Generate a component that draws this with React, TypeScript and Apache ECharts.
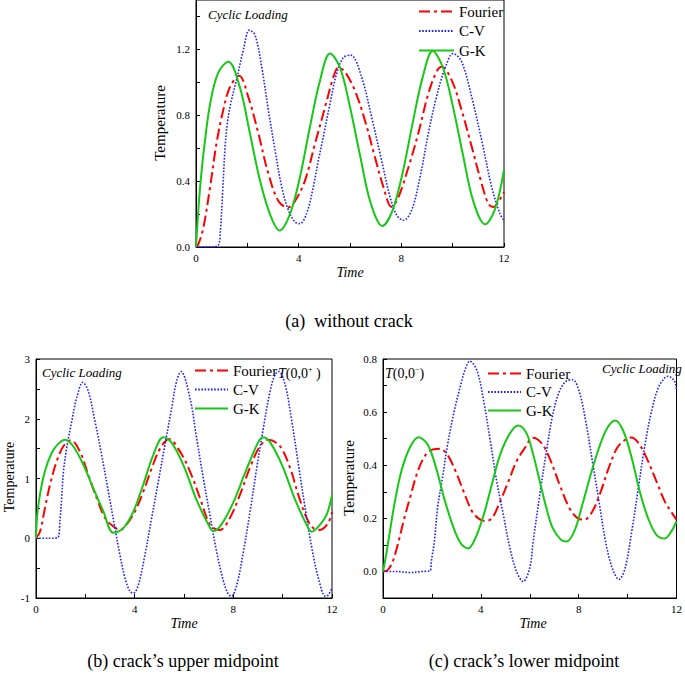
import React, { useEffect, useRef } from "react";
import * as echarts from "echarts";

// ---------- data ----------
const seriesNames = ["Fourier", "C-V", "G-K"];
const xTickValues = [0, 2, 4, 6, 8, 10, 12];
const xLabelValues = [0, 4, 8, 12];

const aYTicks = [0, 0.2, 0.4, 0.6, 0.8, 1.0, 1.2, 1.4];
const aYLabels = [0, 0.4, 0.8, 1.2];
const bYTicks = [-1, -0.5, 0, 0.5, 1, 1.5, 2, 2.5, 3];
const bYLabels = [-1, 0, 1, 2, 3];
const cYTicks = [0, 0.1, 0.2, 0.3, 0.4, 0.5, 0.6, 0.7, 0.8];
const cYLabels = [0, 0.2, 0.4, 0.6, 0.8];

const aFourier = [[0,0],[0.1,0.02],[0.29,0.12],[0.55,0.365],[0.8,0.63],[1.06,0.83],[1.32,0.97],[1.68,1.04],[2.04,0.91],[2.43,0.69],[2.82,0.445],[3.21,0.28],[3.58,0.24],[3.86,0.28],[4.25,0.405],[4.64,0.63],[5.03,0.85],[5.35,1.03],[5.55,1.09],[5.8,1.064],[6.19,0.95],[6.58,0.77],[6.97,0.547],[7.3,0.365],[7.62,0.243],[7.88,0.3],[8.28,0.486],[8.66,0.69],[9.05,0.93],[9.37,1.064],[9.57,1.094],[9.96,1.013],[10.35,0.83],[10.74,0.61],[11.13,0.385],[11.39,0.263],[11.58,0.243],[11.84,0.29],[12,0.334]];
const aCV = [[0,0],[0.5,0],[0.86,0.01],[0.95,0.1],[1.04,0.34],[1.13,0.6],[1.22,0.75],[1.35,0.87],[1.6,1.03],[1.85,1.2],[2.08,1.317],[2.3,1.287],[2.56,1.094],[2.82,0.83],[3.08,0.588],[3.34,0.365],[3.6,0.223],[3.86,0.152],[4.05,0.142],[4.31,0.203],[4.57,0.365],[4.77,0.527],[4.96,0.669],[5.22,0.871],[5.48,1.054],[5.74,1.15],[6.03,1.165],[6.45,1.033],[6.84,0.79],[7.23,0.527],[7.56,0.304],[7.82,0.193],[8.08,0.162],[8.4,0.223],[8.73,0.426],[9.05,0.689],[9.37,0.912],[9.7,1.084],[10.02,1.175],[10.35,1.125],[10.74,0.912],[11.13,0.648],[11.52,0.365],[11.84,0.203],[12,0.162]];
const aGK = [[0,0],[0.08,0.2],[0.17,0.38],[0.3,0.58],[0.55,0.87],[0.87,1.06],[1.26,1.125],[1.71,0.97],[2.1,0.69],[2.49,0.405],[2.88,0.2],[3.25,0.1],[3.66,0.2],[4.05,0.425],[4.44,0.73],[4.83,1.01],[5.22,1.175],[5.61,1.09],[6.0,0.85],[6.4,0.55],[6.8,0.27],[7.26,0.128],[7.65,0.22],[8.05,0.45],[8.45,0.76],[8.83,1.03],[9.22,1.19],[9.62,1.09],[10.0,0.86],[10.4,0.56],[10.8,0.28],[11.26,0.138],[11.65,0.23],[12,0.47]];

const bFourier = [[0,0],[0.16,0.11],[0.36,0.5],[0.57,0.9],[0.84,1.29],[1.11,1.54],[1.42,1.64],[1.78,1.45],[2.12,1.06],[2.46,0.67],[2.8,0.34],[3.13,0.2],[3.42,0.14],[3.67,0.23],[4.01,0.45],[4.35,0.78],[4.69,1.17],[5.03,1.5],[5.4,1.66],[5.84,1.45],[6.24,1.12],[6.65,0.67],[6.98,0.28],[7.19,0.17],[7.46,0.14],[7.86,0.34],[8.27,0.73],[8.67,1.18],[9.08,1.54],[9.42,1.65],[9.89,1.54],[10.3,1.18],[10.63,0.73],[10.97,0.34],[11.24,0.17],[11.51,0.14],[11.85,0.26],[12,0.44]];
const bCV = [[0,0],[0.5,0],[0.88,0.01],[0.97,0.3],[1.04,0.67],[1.11,1.1],[1.24,1.5],[1.45,1.96],[1.65,2.35],[1.9,2.61],[2.12,2.46],[2.39,1.96],[2.66,1.4],[2.93,0.79],[3.2,0.17],[3.4,-0.27],[3.61,-0.67],[3.81,-0.89],[3.95,-0.92],[4.15,-0.78],[4.42,-0.27],[4.69,0.34],[4.96,0.95],[5.23,1.57],[5.5,2.18],[5.7,2.63],[5.88,2.79],[6.24,2.35],[6.51,1.68],[6.78,1.01],[7.05,0.39],[7.32,-0.22],[7.6,-0.72],[7.8,-0.94],[7.92,-0.97],[8.14,-0.78],[8.41,-0.22],[8.68,0.45],[8.95,1.18],[9.22,1.85],[9.49,2.46],[9.69,2.74],[9.84,2.79],[10.1,2.57],[10.37,1.96],[10.64,1.23],[10.91,0.51],[11.18,-0.16],[11.45,-0.67],[11.73,-0.97],[11.85,-0.95],[12,-0.83]];
const bGK = [[0,0],[0.05,0.39],[0.16,0.73],[0.36,1.12],[0.64,1.43],[0.9,1.58],[1.19,1.65],[1.51,1.54],[1.92,1.23],[2.32,0.84],[2.73,0.45],[3.14,0.09],[3.54,0.17],[3.95,0.45],[4.35,0.9],[4.76,1.4],[5.16,1.69],[5.5,1.6],[6.0,1.2],[6.5,0.65],[7.0,0.22],[7.18,0.12],[7.5,0.22],[8.0,0.6],[8.5,1.12],[9.0,1.6],[9.2,1.69],[9.5,1.6],[10.0,1.2],[10.5,0.65],[11.0,0.2],[11.17,0.11],[11.5,0.22],[11.78,0.39],[12,0.72]];

const cFourier = [[0,0],[0.2,0.006],[0.4,0.038],[0.6,0.1],[0.87,0.2],[1.14,0.289],[1.42,0.377],[1.75,0.44],[2.03,0.459],[2.33,0.462],[2.63,0.44],[2.97,0.377],[3.3,0.3],[3.64,0.226],[3.9,0.2],[4.15,0.19],[4.45,0.2],[4.79,0.264],[5.13,0.339],[5.46,0.415],[5.8,0.465],[6.12,0.503],[6.48,0.483],[6.81,0.427],[7.22,0.327],[7.62,0.239],[7.96,0.2],[8.23,0.195],[8.56,0.226],[8.9,0.3],[9.23,0.39],[9.57,0.465],[9.9,0.496],[10.15,0.504],[10.44,0.484],[10.78,0.427],[11.18,0.339],[11.52,0.264],[11.86,0.214],[12,0.195]];
const cCV = [[0,0],[0.5,0],[1.1,-0.004],[1.6,0],[1.92,0.002],[1.98,0.04],[2.1,0.113],[2.23,0.239],[2.43,0.352],[2.64,0.477],[2.91,0.603],[3.18,0.704],[3.38,0.766],[3.55,0.792],[3.85,0.754],[4.12,0.64],[4.39,0.49],[4.65,0.339],[4.92,0.214],[5.19,0.088],[5.46,0.0],[5.73,-0.038],[6.0,0.013],[6.14,0.113],[6.41,0.289],[6.68,0.452],[6.94,0.59],[7.21,0.678],[7.48,0.716],[7.75,0.722],[8.02,0.678],[8.29,0.565],[8.56,0.415],[8.83,0.264],[9.1,0.113],[9.37,0.013],[9.65,-0.03],[9.9,0.013],[10.17,0.151],[10.44,0.314],[10.71,0.477],[10.98,0.603],[11.25,0.691],[11.52,0.729],[11.65,0.735],[11.92,0.716],[12,0.68]];
const cGK = [[0,0],[0.13,0.063],[0.28,0.15],[0.48,0.26],[0.75,0.377],[1.09,0.465],[1.45,0.505],[1.83,0.477],[2.17,0.39],[2.5,0.276],[2.84,0.176],[3.17,0.107],[3.48,0.086],[3.78,0.126],[4.12,0.214],[4.45,0.327],[4.79,0.44],[5.19,0.52],[5.53,0.55],[5.87,0.52],[6.14,0.44],[6.41,0.34],[6.68,0.239],[6.94,0.163],[7.28,0.119],[7.5,0.113],[7.82,0.151],[8.15,0.251],[8.49,0.364],[8.83,0.465],[9.17,0.54],[9.5,0.568],[9.83,0.528],[10.17,0.427],[10.5,0.3],[10.84,0.2],[11.18,0.138],[11.52,0.124],[11.79,0.151],[12,0.188]];

const captionA = "(a)  without crack";
const captionB = "(b) crack\u2019s upper midpoint";
const captionC = "(c) crack\u2019s lower midpoint";

// ---------- styling ----------
const FONT = "Liberation Serif";
const lineStyles: Record<string, any> = {
  Fourier: { color: "#ff0000", width: 2, type: [11, 4, 3, 4] },
  "C-V": { color: "#1f1fff", width: 1.6, type: [1.6, 1.6] },
  "G-K": { color: "#17c817", width: 2, type: "solid" },
};

function makeX(gridIndex: number) {
  return {
    type: "value",
    gridIndex,
    min: 0,
    max: 12,
    interval: 2,
    axisLine: { show: true, onZero: false, lineStyle: { color: "#000", width: 1 } },
    axisTick: { show: true, inside: true, length: 4, customValues: xTickValues, lineStyle: { color: "#000" } },
    axisLabel: { customValues: xLabelValues, fontFamily: FONT, fontSize: 11, color: "#000", margin: 5 },
    splitLine: { show: false },
  };
}

function makeY(gridIndex: number, min: number, max: number, interval: number, ticks: number[], labels: number[], digits: number) {
  return {
    type: "value",
    gridIndex,
    min,
    max,
    interval,
    axisLine: { show: true, onZero: false, lineStyle: { color: "#000", width: 1 } },
    axisTick: { show: true, inside: true, length: 4, customValues: ticks, lineStyle: { color: "#000" } },
    axisLabel: {
      customValues: labels,
      fontFamily: FONT,
      fontSize: 11,
      color: "#000",
      margin: 6,
      formatter: (v: number) => v.toFixed(digits),
    },
    splitLine: { show: false },
  };
}

function makeSeries(name: string, data: number[][], idx: number) {
  return {
    type: "line",
    name,
    xAxisIndex: idx,
    yAxisIndex: idx,
    data,
    smooth: 0.35,
    symbol: "none",
    showSymbol: false,
    clip: true,
    lineStyle: lineStyles[name],
    itemStyle: { color: lineStyles[name].color },
    emphasis: { disabled: true },
  };
}

function makeLegend(left: number, top: number, itemWidth: number, itemGap: number) {
  return {
    data: seriesNames,
    orient: "vertical",
    left,
    top,
    itemWidth,
    itemHeight: 14,
    itemGap,
    padding: 0,
    selectedMode: false,
    itemStyle: { opacity: 0 },
    textStyle: { fontFamily: FONT, fontSize: 15, color: "#000" },
  };
}

function txt(x: number, y: number, text: string, opts: any = {}) {
  return {
    type: "text",
    x,
    y,
    rotation: opts.rotation || 0,
    style: {
      text,
      fontFamily: FONT,
      fontSize: opts.fontSize || 14,
      fontStyle: opts.italic ? "italic" : "normal",
      fill: "#000",
      align: opts.align || "center",
      verticalAlign: "middle",
      rich: opts.rich,
    },
  };
}

const pointRich = {
  i: { fontFamily: FONT, fontSize: 14, fontStyle: "italic", fill: "#000", color: "#000" },
  n: { fontFamily: FONT, fontSize: 14, fill: "#000", color: "#000" },
  s: { fontFamily: FONT, fontSize: 8, fill: "#000", color: "#000", verticalAlign: "top", lineHeight: 16 },
};

export default function App() {
  const ref = useRef<HTMLDivElement>(null);
  useEffect(() => {
    if (!ref.current) return;
    const chart = echarts.init(ref.current, null, { renderer: "svg" });
    chart.setOption({
      animation: false,
      backgroundColor: "#fff",
      textStyle: { fontFamily: FONT },
      grid: [
        { left: 196, top: 0, width: 308, height: 247, show: true, borderColor: "#000", borderWidth: 1 },
        { left: 36, top: 359, width: 296, height: 239, show: true, borderColor: "#000", borderWidth: 1 },
        { left: 383, top: 359, width: 297, height: 239, show: true, borderColor: "#000", borderWidth: 1 },
      ],
      xAxis: [makeX(0), makeX(1), makeX(2)],
      yAxis: [
        makeY(0, 0, 1.5, 0.1, aYTicks, aYLabels, 1),
        makeY(1, -1, 3, 0.5, bYTicks, bYLabels, 0),
        makeY(2, -0.1, 0.8, 0.1, cYTicks, cYLabels, 1),
      ],
      legend: [makeLegend(418, 4, 35, 4.5), makeLegend(194, 363, 33, 4), makeLegend(487, 366, 33, 3.5)],
      series: [
        makeSeries("Fourier", aFourier, 0),
        makeSeries("C-V", aCV, 0),
        makeSeries("G-K", aGK, 0),
        makeSeries("Fourier", bFourier, 1),
        makeSeries("C-V", bCV, 1),
        makeSeries("G-K", bGK, 1),
        makeSeries("Fourier", cFourier, 2),
        makeSeries("C-V", cCV, 2),
        makeSeries("G-K", cGK, 2),
      ],
      graphic: [
        txt(160, 123, "Temperature", { rotation: Math.PI / 2, fontSize: 15 }),
        txt(9, 477, "Temperature", { rotation: Math.PI / 2, fontSize: 14 }),
        txt(349, 478, "Temperature", { rotation: Math.PI / 2, fontSize: 15 }),
        txt(350, 272, "Time", { italic: true, fontSize: 14 }),
        txt(184, 623, "Time", { italic: true, fontSize: 14 }),
        txt(533, 623, "Time", { italic: true, fontSize: 14 }),
        txt(208, 14, "Cyclic Loading", { italic: true, fontSize: 13, align: "left" }),
        txt(42, 372, "Cyclic Loading", { italic: true, fontSize: 13, align: "left" }),
        txt(602, 368, "Cyclic Loading", { italic: true, fontSize: 13, align: "left" }),
        txt(278, 373, "{i|T}{n|(0,0}{s|+}{n| )}", { align: "left", rich: pointRich }),
        txt(385, 373, "{i|T}{n|(0,0}{s|\u2212}{n|)}", { align: "left", rich: pointRich }),
        txt(349, 321, captionA, { fontSize: 18 }),
        txt(183, 661, captionB, { fontSize: 18 }),
        txt(524, 661, captionC, { fontSize: 18 }),
      ],
    });
    return () => chart.dispose();
  }, []);
  return <div ref={ref} style={{ position: "fixed", left: 0, top: 0, width: 685, height: 676, background: "#fff" }} />;
}
